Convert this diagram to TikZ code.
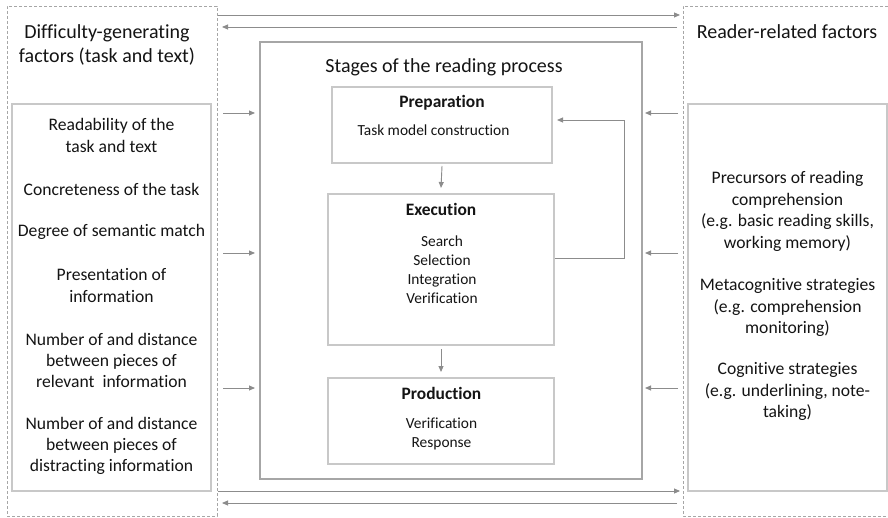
\documentclass[tikz,border=0pt]{standalone}
\usepackage{fontspec}
\setmainfont{Carlito}[Ligatures={NoCommon}]
\usetikzlibrary{arrows.meta}
\definecolor{boxgray}{HTML}{C8C8C8}
\definecolor{framegray}{HTML}{A6A6A6}
\definecolor{dashgray}{HTML}{A6A6A6}
\definecolor{arrgray}{HTML}{8C8C8C}
\definecolor{txt}{HTML}{141414}
\begin{document}
\begin{tikzpicture}[x=1pt,y=-1pt,
  every node/.style={inner sep=0pt, outer sep=0pt, text=txt},
  dashbox/.style={draw=dashgray, line width=0.8pt, dash pattern=on 3pt off 2pt},
  litebox/.style={draw=boxgray, line width=1.3pt},
  framebox/.style={draw=framegray, line width=1.2pt},
  hdr/.style={align=center, font=\fontsize{20}{24.4}\selectfont},
  lst/.style={align=center, font=\fontsize{17.6}{21.4}\selectfont},
  stagehead/.style={align=center, font=\fontsize{17.4}{21}\selectfont\bfseries},
  stagetext/.style={align=center, font=\fontsize{15.4}{18.9}\selectfont},
  arr/.style={draw=arrgray, line width=0.9pt, -{Triangle[length=6pt,width=5pt]}}
]
\useasboundingbox (0,0) rectangle (888,518);
\fill[white] (0,0) rectangle (888,518);

% outer dashed groups
\node[dashbox, minimum width=210pt, minimum height=510pt] (ldash) at (112,261) {};
\node[minimum width=210pt, minimum height=510pt] (rdash) at (788,261) {};
\draw[dashbox] (888,6) -- (rdash.north west) -- (rdash.south west) -- (888,516);

% inner boxes
\node[litebox, minimum width=199pt, minimum height=387pt] (lbox) at (111.5,297.5) {};
\node[litebox, minimum width=199pt, minimum height=387pt] (rbox) at (787.5,297.5) {};
\node[framebox, minimum width=382pt, minimum height=437pt] (stages) at (451,260.5) {};
\node[litebox, minimum width=220pt, minimum height=76pt] (prep) at (442,125) {};
\node[litebox, minimum width=226pt, minimum height=151pt] (exec) at (441,269.5) {};
\node[litebox, minimum width=226pt, minimum height=86pt] (prod) at (441,421) {};

% titles
\node[hdr] (ltitle) at (107,45) {Difficulty-generating\\factors (task and text)};
\node[hdr] (rtitle) at (787,32) {Reader-related factors};
\node[hdr] (stitle) at (444,67) {Stages of the reading process};

% stage texts
\node[stagehead] (preph) at (442,103) {Preparation};
\node[stagetext] (prept) at (433.5,130) {Task model construction};
\node[stagehead] (exech) at (441,209) {Execution};
\node[stagetext] (exect) at (442,269.5) {Search\\Selection\\Integration\\Verification};
\node[stagehead] (prodh) at (441.5,393) {Production};
\node[stagetext] (prodt) at (441.5,433.5) {Verification\\Response};

% left list
\node[lst] (l1) at (111.5,135.5) {Readability of the\\task and text};
\node[lst] (l2) at (111.5,189) {Concreteness of the task};
\node[lst] (l3) at (111.5,232) {Degree of semantic match};
\node[lst] (l4) at (111.5,285.5) {Presentation of\\information};
\node[lst] (l5) at (111.5,360.5) {Number of and distance\\between pieces of\\relevant\ \ information};
\node[lst] (l6) at (111.5,446) {Number of and distance\\between pieces of\\distracting information};

% right list
\node[lst] (r1) at (787.5,211.5) {Precursors of reading\\comprehension\\(e.g. basic reading skills,\\working memory)};
\node[lst] (r2) at (787.5,307.5) {Metacognitive strategies\\(e.g. comprehension\\monitoring)};
\node[lst] (r3) at (787.5,391.5) {Cognitive strategies\\(e.g. underlining, note-\\taking)};

% top and bottom two-way connections
\draw[arr] ([xshift=1pt]ldash.east |- 0,15) -- ([xshift=-3pt]rdash.west |- 0,15);
\draw[arr] ([xshift=-6pt]rdash.west |- 0,27) -- ([xshift=5pt]ldash.east |- 0,27);
\draw[arr] ([xshift=1pt]ldash.east |- 0,491) -- ([xshift=-3pt]rdash.west |- 0,491);
\draw[arr] ([xshift=-6pt]rdash.west |- 0,503) -- ([xshift=5pt]ldash.east |- 0,503);

% factors into stages
\foreach \yy in {113,253,388}{
  \draw[arr] ([xshift=6pt]ldash.east |- 0,\yy) -- ([xshift=-5pt]stages.west |- 0,\yy);
  \draw[arr] ([xshift=-5pt]rdash.west |- 0,\yy) -- ([xshift=3pt]stages.east |- 0,\yy);
}

% stage flow
\draw[arr] ([yshift=-3pt]prep.south) -- ([yshift=6pt]exec.north);
\draw[arr] ([yshift=-4pt]exec.south) -- ([yshift=6pt]prod.north);
\coordinate (fbturn) at (624,258);
\draw[arr] ([xshift=1pt]exec.east |- fbturn) -- (fbturn) -- (fbturn |- 0,120) -- ([xshift=5pt]prep.east |- 0,120);
\end{tikzpicture}
\end{document}
